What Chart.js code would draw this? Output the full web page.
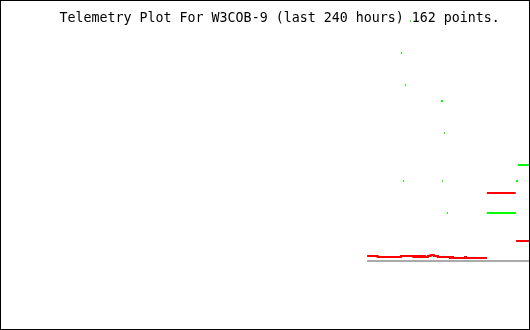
<!DOCTYPE html>
<html lang="en">
<head>
    <meta charset="UTF-8" />
    <title>Telemetry Plot W3COB-9</title>
    <script src="https://cdn.jsdelivr.net/npm/chart.js"></script>
    <style> body { margin: 0; background: #fff; } canvas { display: block; } </style>
</head>
<body>
    <canvas id="telemetryChart" width="530" height="330"></canvas>

    <script>
        // Title
        const plotTitle = 'Telemetry Plot For W3COB-9 (last 240 hours) 162 points.';

        // Red channel: continuous stepped trace (hours ago -> value)
        const traceHours  = [-73.6, -68.8, -58.2, -52.6, -51.8, -50.9, -50.0, -49.1, -48.2, -47.3, -45.9, -44.7, -43.2, -41.4, -35.9, -35.5, -34.5, -29.1, -28.6, -19.1];
        const traceValues = [0.3125, 0.25, 0.3125, 0.25, 0.3125, 0.25, 0.3125, 0.25, 0.3125, 0.25, 0.3125, 0.375, 0.3125, 0.25, 0.1875, 0.25, 0.1875, 0.25, 0.1875, 0.1875];

        // Red channel: later isolated readings (start, end, value)
        const redStart  = [-19.1, -5.9];
        const redEnd    = [-6.05, 0];
        const redValues = [4.25, 1.25];

        // Green channel readings (start, end, value)
        const greenStart  = [-54.1, -58.2, -57.3, -56.4, -40.0, -39.5, -38.6, -37.3, -19.1, -5.9, -5.0];
        const greenEnd    = [-53.65, -57.75, -56.85, -55.95, -39.1, -39.05, -38.15, -36.85, -5.9, -5.0, 0];
        const greenValues = [15, 13, 5, 11, 10, 5, 8, 3, 3, 5, 6];

        // Gray baseline
        const baseStart = [-73.6];
        const baseEnd   = [0];
        const baseValues = [0];

        function toSegments(starts, ends, values) {
            const pts = [];
            starts.forEach((s, i) => {
                pts.push({ x: s, y: values[i] });
                pts.push({ x: ends[i], y: values[i] });
                pts.push({ x: ends[i], y: null });
            });
            return pts;
        }

        const redData = traceHours.map((h, i) => ({ x: h, y: traceValues[i] }));
        redData.push({ x: traceHours[traceHours.length - 1], y: null });
        redData.push(...toSegments(redStart, redEnd, redValues));

        const framePlugin = {
            id: 'frame',
            beforeDraw(chart) {
                const ctx = chart.ctx;
                ctx.save();
                ctx.fillStyle = '#ffffff';
                ctx.fillRect(0, 0, chart.width, chart.height);
                ctx.restore();
            },
            afterDraw(chart) {
                const ctx = chart.ctx;
                ctx.save();
                ctx.strokeStyle = '#000000';
                ctx.lineWidth = 1;
                ctx.strokeRect(0.5, 0.5, 529, 329);
                ctx.fillStyle = '#000000';
                ctx.font = '13.3px "DejaVu Sans Mono", monospace';
                ctx.textBaseline = 'alphabetic';
                ctx.fillText(plotTitle, 59.5, 22);
                ctx.restore();
            }
        };

        const lineStyle = { pointRadius: 0, borderWidth: 2, stepped: true, spanGaps: false, clip: false, fill: false };

        new Chart(document.getElementById('telemetryChart').getContext('2d'), {
            type: 'line',
            data: {
                datasets: [
                    { label: 'Red', data: redData, borderColor: '#ff0000', ...lineStyle },
                    { label: 'Green', data: toSegments(greenStart, greenEnd, greenValues), borderColor: '#00ff00', ...lineStyle },
                    { label: 'Base', data: toSegments(baseStart, baseEnd, baseValues), borderColor: '#aaaaaa', ...lineStyle }
                ]
            },
            options: {
                responsive: false,
                animation: false,
                layout: { padding: { left: 1, right: 1, top: 5, bottom: 53 } },
                plugins: { legend: { display: false }, tooltip: { enabled: false } },
                scales: {
                    x: { type: 'linear', min: -240, max: 0, display: false },
                    y: { type: 'linear', min: -1, max: 16, display: false }
                }
            },
            plugins: [framePlugin]
        });
    </script>
</body>
</html>
